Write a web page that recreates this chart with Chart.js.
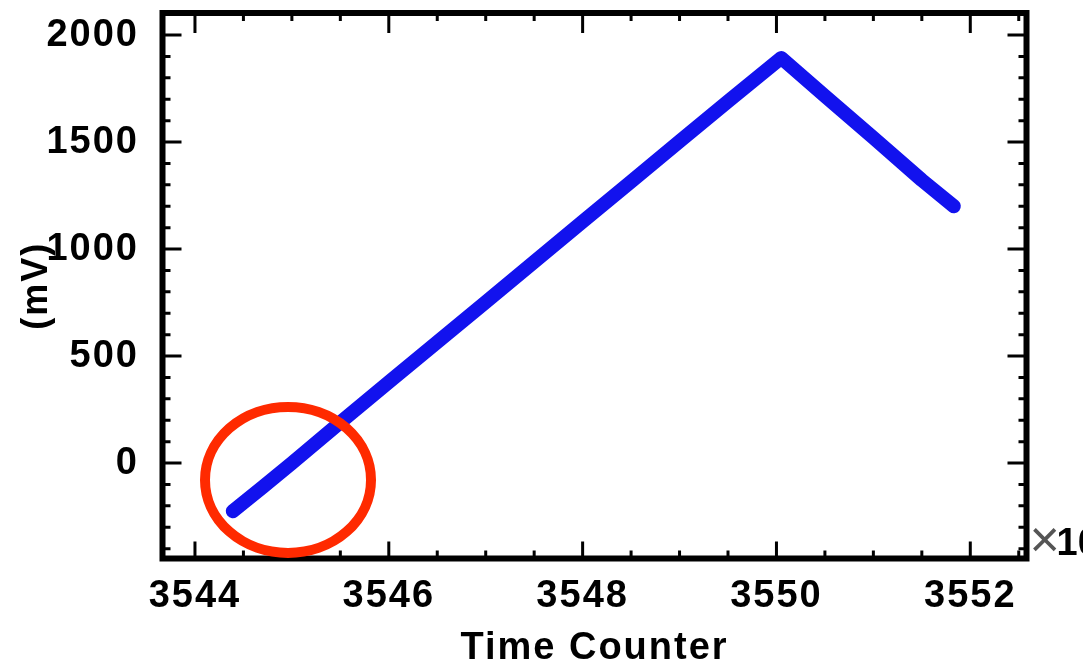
<!DOCTYPE html>
<html>
<head>
<meta charset="utf-8">
<script src="https://cdn.jsdelivr.net/npm/chart.js@4/dist/chart.umd.min.js"></script>
<style>
  html, body { margin: 0; padding: 0; background: #fff; }
  canvas { display: block; }
</style>
</head>
<body>
<canvas id="chart" width="1083" height="668"></canvas>
<script>
// DATA
const timeCounter = [3544.39, 3544.7, 3545.0, 3545.5, 3546.0, 3546.5, 3547.0, 3547.5, 3548.0, 3548.5, 3549.0, 3549.5, 3550.05, 3550.5, 3551.0, 3551.5, 3551.83];
const voltage = [-225, -112, 0, 190, 378, 565, 752, 940, 1128, 1315, 1503, 1690, 1893, 1715, 1520, 1322, 1200];
const xTicks = [3544, 3546, 3548, 3550, 3552];
const yTicks = [0, 500, 1000, 1500, 2000];

const FONT = '"Liberation Sans", Arial, Helvetica, sans-serif';

// FRAME, INWARD TICKS, RED CIRCLE, x10 LABEL
const frameAndTicks = {
  id: 'frameAndTicks',
  beforeDraw(chart) {
    chart.ctx.letterSpacing = '2px';
  },
  afterDraw(chart) {
    const { ctx, chartArea: a, scales: { x, y } } = chart;
    ctx.save();
    ctx.letterSpacing = '0px';
    ctx.strokeStyle = '#000';
    ctx.lineCap = 'butt';
    ctx.lineWidth = 3;

    const xTick = (v, lenB, lenT) => {
      const px = x.getPixelForValue(v);
      ctx.beginPath();
      ctx.moveTo(px, a.bottom); ctx.lineTo(px, a.bottom - lenB);
      ctx.moveTo(px, a.top); ctx.lineTo(px, a.top + lenT);
      ctx.stroke();
    };
    const yTick = (v, len) => {
      const py = y.getPixelForValue(v);
      ctx.beginPath();
      ctx.moveTo(a.left, py); ctx.lineTo(a.left + len, py);
      ctx.moveTo(a.right, py); ctx.lineTo(a.right - len, py);
      ctx.stroke();
    };

    // minor ticks
    for (let i = Math.ceil(x.min / 0.5); i * 0.5 <= x.max; i++) {
      if (i % 4 !== 0) xTick(i * 0.5, 8, 8);
    }
    for (let i = Math.ceil(y.min / 100); i * 100 <= y.max; i++) {
      if (i % 5 !== 0) yTick(i * 100, 8);
    }
    // major ticks
    xTicks.forEach(v => xTick(v, 17, 20));
    for (let i = Math.ceil(y.min / 500); i * 500 <= y.max; i++) yTick(i * 500, 19);

    // frame
    ctx.lineWidth = 6;
    ctx.lineJoin = 'miter';
    ctx.strokeRect(a.left, a.top, a.right - a.left, a.bottom - a.top);

    // red highlight circle
    ctx.strokeStyle = '#ff2a00';
    ctx.lineWidth = 10;
    ctx.beginPath();
    ctx.ellipse(x.getPixelForValue(3544.96), y.getPixelForValue(-79), 83, 73, 0, 0, Math.PI * 2);
    ctx.stroke();

    // x10 exponent (cut off at the edge)
    ctx.textBaseline = 'alphabetic';
    ctx.textAlign = 'left';
    ctx.fillStyle = '#555';
    ctx.font = '52px ' + FONT;
    const tx = a.right + 3;
    ctx.fillText('\u00d7', tx, 557);
    ctx.fillStyle = '#000';
    ctx.font = 'bold 38px ' + FONT;
    ctx.fillText('10', tx + 27, 555);
    ctx.restore();
  }
};

// CHART
new Chart(document.getElementById('chart'), {
  type: 'line',
  data: {
    datasets: [{
      data: timeCounter.map((t, i) => ({ x: t, y: voltage[i] })),
      borderColor: '#1212ee',
      borderWidth: 14,
      borderCapStyle: 'round',
      borderJoinStyle: 'round',
      pointRadius: 0,
      tension: 0,
      fill: false
    }]
  },
  options: {
    responsive: false,
    animation: false,
    devicePixelRatio: 1,
    layout: { padding: { top: 13, right: 56.5, left: 0, bottom: 0 } },
    plugins: { legend: { display: false }, tooltip: { enabled: false } },
    scales: {
      x: {
        type: 'linear',
        min: 3543.665,
        max: 3552.58,
        afterBuildTicks: s => { s.ticks = xTicks.map(v => ({ value: v })); },
        afterFit: s => { s.height = 109.5; s.paddingLeft = 0; s.paddingRight = 0; },
        grid: { display: false, drawTicks: false },
        border: { display: false },
        ticks: {
          color: '#000',
          padding: 15,
          maxRotation: 0,
          autoSkip: false,
          font: { family: FONT, size: 38, weight: 'bold' },
          callback: v => String(v)
        },
        title: {
          display: true,
          text: 'Time Counter',
          color: '#000',
          padding: 0,
          font: { family: FONT, size: 38, weight: 'bold', lineHeight: 1 }
        }
      },
      y: {
        min: -446,
        max: 2103,
        afterBuildTicks: s => { s.ticks = yTicks.map(v => ({ value: v })); },
        afterFit: s => { s.width = 162.5; s.paddingTop = 0; s.paddingBottom = 0; },
        grid: { display: false, drawTicks: false },
        border: { display: false },
        ticks: {
          color: '#000',
          padding: 23.5,
          autoSkip: false,
          font: { family: FONT, size: 38, weight: 'bold' },
          callback: v => String(v)
        },
        title: {
          display: true,
          text: '(mV)',
          color: '#000',
          padding: { top: 19 },
          font: { family: FONT, size: 36, weight: 'bold', lineHeight: 1 }
        }
      }
    }
  },
  plugins: [frameAndTicks]
});
</script>
</body>
</html>
